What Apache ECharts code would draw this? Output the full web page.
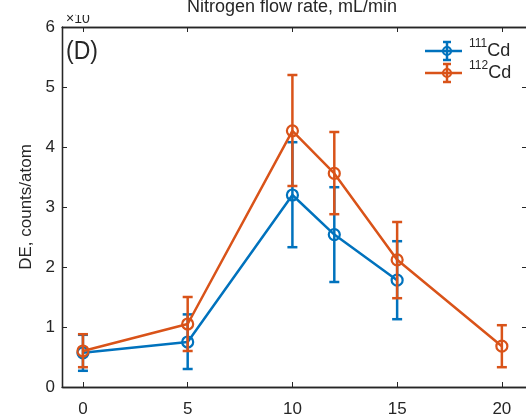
<!DOCTYPE html>
<html>
<head>
<meta charset="utf-8">
<script src="https://cdn.jsdelivr.net/npm/echarts@6/dist/echarts.min.js"></script>
<style>
  html, body { margin: 0; padding: 0; background: #fff; }
  #chart { width: 526px; height: 414px; }
</style>
</head>
<body>
<div id="chart"></div>
<script>
// Nitrogen flow rate (mL/min)
const flowRates = [0, 5, 10, 12, 15, 20];
const xTicks = [0, 5, 10, 15, 20];

// 111Cd detection efficiency and error bars
const cd111Flow = [0, 5, 10, 12, 15];
const cd111Mean = [0.57, 0.75, 3.20, 2.54, 1.78];
const cd111Low  = [0.27, 0.30, 2.33, 1.75, 1.13];
const cd111High = [0.87, 1.21, 4.08, 3.33, 2.43];

// 112Cd detection efficiency and error bars
const cd112Flow = [0, 5, 10, 12, 15, 20];
const cd112Mean = [0.60, 1.05, 4.27, 3.56, 2.12, 0.68];
const cd112Low  = [0.33, 0.60, 3.35, 2.88, 1.48, 0.33];
const cd112High = [0.88, 1.50, 5.20, 4.25, 2.75, 1.03];

const BLUE = '#0072BD';
const ORANGE = '#D95319';
const INK = '#262626';
const FONT = 'Liberation Sans, Arial, sans-serif';

const GRID = { left: 62, top: 27, width: 465, height: 360 };

const pairs = (xs, ys) => xs.map((x, i) => [x, ys[i]]);
const triples = (xs, lo, hi) => xs.map((x, i) => [x, lo[i], hi[i]]);

// vertical error bar with caps
function errorBar(color) {
  return function (params, api) {
    const x = api.value(0);
    const lo = api.coord([x, api.value(1)]);
    const hi = api.coord([x, api.value(2)]);
    const cap = 5;
    const style = { stroke: color, lineWidth: 2.5, fill: null };
    return {
      type: 'group',
      children: [
        { type: 'line', shape: { x1: lo[0], y1: lo[1], x2: hi[0], y2: hi[1] }, style },
        { type: 'line', shape: { x1: lo[0] - cap, y1: lo[1], x2: lo[0] + cap, y2: lo[1] }, style },
        { type: 'line', shape: { x1: hi[0] - cap, y1: hi[1], x2: hi[0] + cap, y2: hi[1] }, style }
      ]
    };
  };
}

function lineSeries(name, color, data, z) {
  return {
    name, type: 'line', data, z,
    symbol: 'circle', symbolSize: 11,
    itemStyle: { color: 'rgba(0,0,0,0)', borderColor: color, borderWidth: 2.2 },
    lineStyle: { color, width: 2.5 },
    emphasis: { disabled: true },
    animation: false
  };
}

const axisBase = {
  type: 'value',
  axisLine: { show: true, onZero: false, lineStyle: { color: INK, width: 1.3 } },
  splitLine: { show: false }
};

// legend glyph: line + error bar + marker, then label with superscript mass number
function legendItem(y, color, mass) {
  const s = { stroke: color, lineWidth: 2.5, fill: null };
  return [
    { type: 'line', shape: { x1: 425, y1: y, x2: 462, y2: y }, style: s },
    { type: 'line', shape: { x1: 447, y1: y - 9, x2: 447, y2: y + 9 }, style: s },
    { type: 'line', shape: { x1: 443, y1: y - 9, x2: 451, y2: y - 9 }, style: s },
    { type: 'line', shape: { x1: 443, y1: y + 9, x2: 451, y2: y + 9 }, style: s },
    { type: 'circle', shape: { cx: 447, cy: y, r: 4 }, style: { stroke: color, lineWidth: 2.2, fill: null } },
    {
      type: 'text', x: 469, y: y - 13,
      style: {
        text: '{sup|' + mass + '}{b|Cd}',
        rich: {
          sup: { fontSize: 12, fontFamily: FONT, fill: INK, verticalAlign: 'top', lineHeight: 22 },
          b: { fontSize: 18, fontFamily: FONT, fill: INK, verticalAlign: 'bottom', lineHeight: 22, padding: [6, 0, 0, 0] }
        }
      }
    }
  ];
}

// plot box outline (the right edge lies just past the canvas)
function frame() {
  const l = GRID.left + 0.5, t = GRID.top + 0.5;
  const r = GRID.left + GRID.width + 0.5, b = GRID.top + GRID.height + 0.5;
  const s = { stroke: INK, lineWidth: 1.3 };
  return [
    [l, t, r, t], [l, b, r, b], [l, t, l, b]
  ].map(([x1, y1, x2, y2]) => ({ type: 'line', z: 1, silent: true, shape: { x1, y1, x2, y2 }, style: s }));
}

const chart = echarts.init(document.getElementById('chart'), null, { renderer: 'canvas' });
chart.setOption({
  backgroundColor: '#fff',
  animation: false,
  grid: Object.assign({ outerBoundsMode: 'none', containLabel: false }, GRID),
  xAxis: [
    Object.assign({}, axisBase, {
      position: 'bottom', min: -1, max: 21.2,
      axisTick: { show: true, inside: true, length: 5, lineStyle: { color: INK }, customValues: xTicks },
      axisLabel: { show: true, color: INK, fontSize: 17, fontFamily: FONT, margin: 14, customValues: xTicks }
    }),
    Object.assign({}, axisBase, {
      position: 'top', min: -1, max: 21.2,
      axisTick: { show: true, inside: true, length: 5, lineStyle: { color: INK }, customValues: xTicks },
      axisLabel: { show: false }
    })
  ],
  yAxis: [
    Object.assign({}, axisBase, {
      position: 'left', min: 0, max: 6, interval: 1,
      name: 'DE, counts/atom', nameLocation: 'middle', nameRotate: 90, nameGap: 20,
      nameTextStyle: { color: INK, fontSize: 17, fontFamily: FONT },
      axisTick: { show: true, inside: true, length: 5, lineStyle: { color: INK } },
      axisLabel: {
        show: true, color: INK, fontSize: 17, fontFamily: FONT, margin: 7,
        verticalAlignMinLabel: 'middle', verticalAlignMaxLabel: 'middle'
      }
    }),
    Object.assign({}, axisBase, {
      position: 'right', min: 0, max: 6, interval: 1,
      axisTick: { show: true, inside: true, length: 5, lineStyle: { color: INK } },
      axisLabel: { show: false }
    })
  ],
  series: [
    { type: 'custom', renderItem: errorBar(BLUE), data: triples(cd111Flow, cd111Low, cd111High), z: 2, silent: true },
    lineSeries('111Cd', BLUE, pairs(cd111Flow, cd111Mean), 3),
    { type: 'custom', renderItem: errorBar(ORANGE), data: triples(cd112Flow, cd112Low, cd112High), z: 4, silent: true },
    lineSeries('112Cd', ORANGE, pairs(cd112Flow, cd112Mean), 5)
  ],
  graphic: frame().concat([
    { type: 'text', x: 292, y: 16, style: { text: 'Nitrogen flow rate, mL/min', fontSize: 18, fontFamily: FONT, fill: INK, textAlign: 'center', textVerticalAlign: 'bottom' } },
    { type: 'text', x: 66, y: 12, style: { text: '×10', fontSize: 14, fontFamily: FONT, fill: INK } },
    { type: 'rect', shape: { x: 76, y: 0, width: 24, height: 15 }, style: { fill: '#fff' } },
    { type: 'text', x: 66, y: 38, scaleY: 1.15, style: { text: '(D)', fontSize: 23, fontFamily: FONT, fill: INK } }
  ], legendItem(51, BLUE, '111'), legendItem(73, ORANGE, '112'))
});
</script>
</body>
</html>
